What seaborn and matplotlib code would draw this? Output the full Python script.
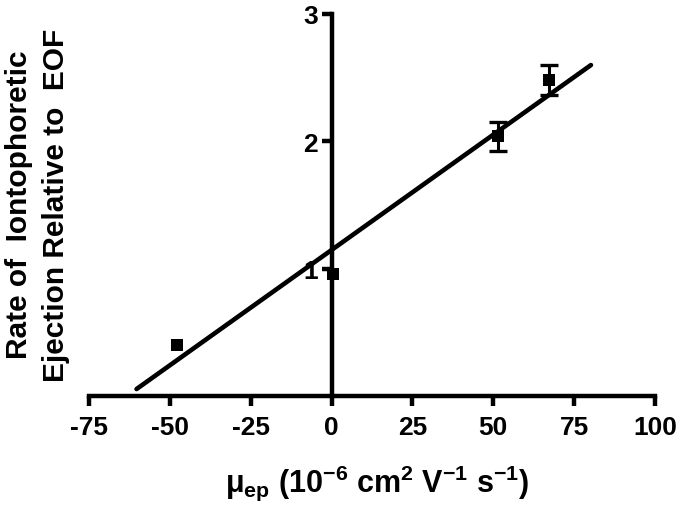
import matplotlib
matplotlib.use("Agg")
import matplotlib.pyplot as plt
import numpy as np
import pandas as pd
import seaborn as sns

# data
mobility = [-47.8, 0.5, 51.5, 67.2]
rate = [0.40, 0.96, 2.04, 2.48]
rate_err = [0.0, 0.0, 0.115, 0.12]
fit_range = [-60.3, 80.2]

x_ticks = [-75, -50, -25, 0, 25, 50, 75, 100]
y_ticks = [1, 2, 3]

sns.set_style("ticks")
plt.rcParams['font.family'] = ['Liberation Sans', 'DejaVu Sans']
plt.rcParams['mathtext.default'] = 'regular'
plt.rcParams['axes.unicode_minus'] = False
for k in ['text.color', 'axes.labelcolor', 'xtick.color', 'ytick.color', 'axes.edgecolor']:
    plt.rcParams[k] = 'black'

df = pd.DataFrame({'mu': mobility, 'rate': rate, 'err': rate_err})
err_df = df[df['err'] > 0]

# linear fit through the points
slope, icpt = np.polyfit(df['mu'], df['rate'], 1)
fit_x = np.array(fit_range)
fit_df = pd.DataFrame({'mu': fit_x, 'rate': slope * fit_x + icpt})

fig = plt.figure(figsize=(6.86, 5.06), dpi=100)
ax = fig.add_axes([89 / 686, 1 - 397 / 506, (655 - 89) / 686, (397 - 15) / 506])

sns.lineplot(data=fit_df, x='mu', y='rate', ax=ax, color='black', linewidth=3.3,
             solid_capstyle='round')
ax.errorbar(err_df['mu'], err_df['rate'], yerr=err_df['err'], fmt='none',
            ecolor='black', elinewidth=2.2, capsize=6.5, capthick=2.4, zorder=4)
sns.scatterplot(data=df, x='mu', y='rate', ax=ax, marker='s', s=85,
                color='black', linewidth=0, zorder=5)

ax.set_xlim(-75, 100)
ax.set_ylim(0, 3)
ax.set_xticks(x_ticks)
ax.set_yticks(y_ticks)

ax.spines['left'].set_position(('data', 0))
ax.spines['bottom'].set_position(('data', 0))
ax.spines['top'].set_visible(False)
ax.spines['right'].set_visible(False)
for s in ['left', 'bottom']:
    ax.spines[s].set_linewidth(3.2)
    ax.spines[s].set_capstyle('projecting')

ax.tick_params(axis='both', direction='out', length=7, width=3.2,
               labelsize=19)
ax.tick_params(axis='x', pad=7)
ax.tick_params(axis='y', pad=3)
for lab in ax.get_xticklabels() + ax.get_yticklabels():
    lab.set_fontweight('bold')

ax.set_xlabel(r'$\mu_{ep}$ (10$^{-6}$ cm$^{2}$ V$^{-1}$ s$^{-1}$)', fontsize=22,
              fontweight='bold')
ax.xaxis.set_label_coords(0.509, -0.175)
ax.set_ylabel('')
fig.text(0.055, 0.595, 'Rate of  Iontophoretic\nEjection Relative to  EOF',
         rotation=90, ha='center', va='center', fontsize=21.5, fontweight='bold',
         linespacing=1.4)

fig.savefig('out.png', dpi=100)
